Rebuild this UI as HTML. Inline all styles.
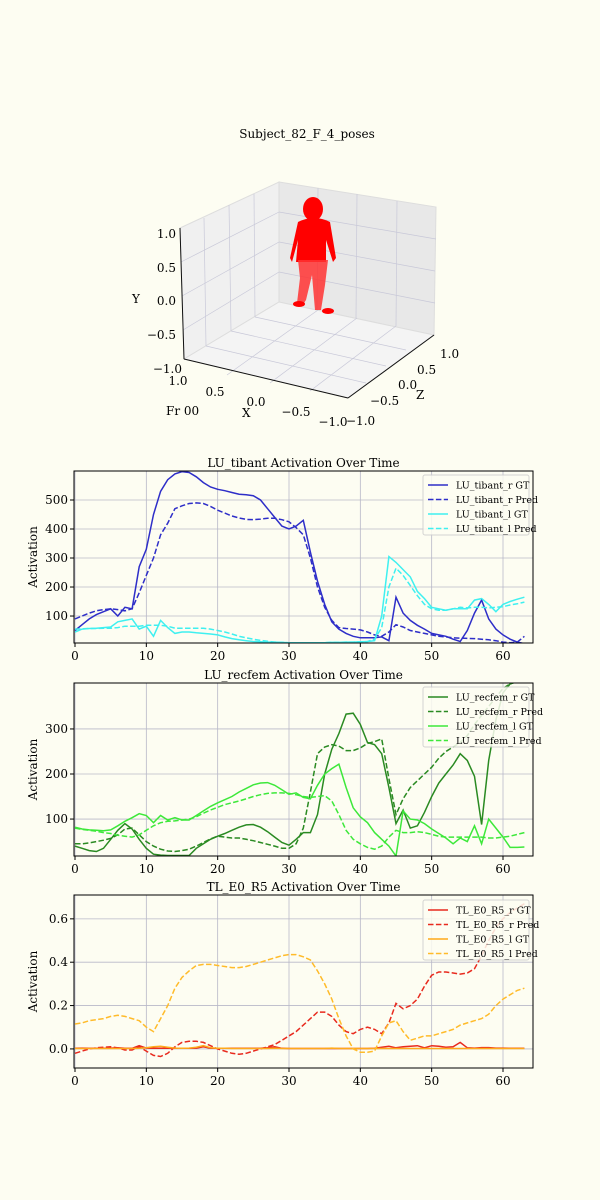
<!DOCTYPE html>
<html><head><meta charset="utf-8"><style>
body{margin:0;background:#fdfdf2;}
svg{display:block;font-family:"DejaVu Serif","Liberation Serif",serif;}
</style></head><body>
<svg id="root" width="600" height="1200" viewBox="0 0 600 1200" xmlns="http://www.w3.org/2000/svg">
<rect width="600" height="1200" fill="#fdfdf2"/>
<g id="scene">
<text x="307" y="138" font-size="12" text-anchor="middle">Subject_82_F_4_poses</text>
<polygon points="180,228 279,182 279,302 184,359" fill="#f0f0f0" stroke="#ddd"/>
<polygon points="279,182 436,207 434,335 279,302" fill="#e8e8e8" stroke="#ddd"/>
<polygon points="184,359 279,302 434,335 348,398" fill="#f4f4f4" stroke="#ddd"/>
<g stroke="#c8c8d8" stroke-width="0.7" fill="none">
<line x1="181" y1="262" x2="279" y2="212"/><line x1="182" y1="296" x2="279" y2="242"/><line x1="183" y1="330" x2="279" y2="272"/>
<line x1="279" y1="212" x2="436" y2="239"/><line x1="279" y1="242" x2="435" y2="271"/><line x1="279" y1="272" x2="435" y2="303"/>
<line x1="204" y1="218" x2="206" y2="346"/><line x1="229" y1="205" x2="231" y2="331"/><line x1="254" y1="194" x2="255" y2="317"/>
<line x1="318" y1="188" x2="317" y2="310"/><line x1="357" y1="194" x2="356" y2="318"/><line x1="397" y1="201" x2="396" y2="326"/>
<line x1="318" y1="310" x2="227" y2="375"/><line x1="357" y1="318" x2="270" y2="383"/><line x1="396" y1="326" x2="310" y2="391"/>
<line x1="206" y1="346" x2="366" y2="383"/><line x1="231" y1="331" x2="386" y2="366"/><line x1="255" y1="317" x2="406" y2="350"/>
</g>
<g stroke="#111" stroke-width="1">
<line x1="180" y1="228" x2="184" y2="359"/><line x1="184" y1="359" x2="348" y2="398"/><line x1="348" y1="398" x2="434" y2="335"/>
</g>
<g fill="#f00">
<ellipse cx="313" cy="209" rx="10" ry="12"/>
<path d="M298 222 Q314 214 330 222 L336 258 L333 262 L326 240 L326 262 L296 262 L298 240 L292 262 L290 258 Z"/>
<path d="M298 260 L328 260 L325 285 L321 310 L315 310 L312 275 L306 300 L302 306 L297 303 L300 278 Z" fill="#f33" opacity="0.85"/>
<ellipse cx="299" cy="304" rx="6" ry="3"/><ellipse cx="328" cy="311" rx="6" ry="3"/>
</g>
<g font-size="12">
<text x="176" y="238" text-anchor="end">1.0</text><text x="176" y="272" text-anchor="end">0.5</text><text x="176" y="305" text-anchor="end">0.0</text><text x="176" y="339" text-anchor="end">−0.5</text><text x="182" y="373" text-anchor="end">−1.0</text>
<text x="178" y="385" text-anchor="middle">1.0</text><text x="215" y="396" text-anchor="middle">0.5</text><text x="256" y="406" text-anchor="middle">0.0</text><text x="296" y="416" text-anchor="middle">−0.5</text><text x="333" y="426" text-anchor="middle">−1.0</text>
<text x="440" y="358">1.0</text><text x="417" y="374">0.5</text><text x="398" y="389">0.0</text><text x="370" y="405">−0.5</text><text x="346" y="425">−1.0</text>
<text x="132" y="303">Y</text><text x="242" y="417">X</text><text x="416" y="399">Z</text><text x="166" y="415">Fr 00</text>
</g>
</g>
</svg>
<script>
// ---- Chart 1: LU_tibant ----
const frames = Array.from({length:64},(_,i)=>i);
const tibR_GT=[50,70,90,105,115,125,100,130,125,270,330,450,530,570,590,598,595,580,560,545,537,532,526,520,518,515,500,470,440,410,400,410,430,320,220,140,80,55,40,30,25,25,25,28,15,165,110,85,68,55,40,35,30,20,12,50,110,155,90,55,35,20,10,5];
const tibR_Pred=[90,100,110,118,122,125,122,118,125,180,240,300,380,420,470,480,488,490,488,478,465,455,445,438,433,432,434,437,437,432,425,405,380,300,200,130,85,60,57,55,52,45,35,30,45,70,62,50,45,40,35,30,28,25,24,23,22,20,18,15,10,8,10,30];
const tibL_GT=[45,55,57,58,60,62,80,85,90,55,65,30,85,60,40,45,45,42,40,38,35,28,22,18,15,12,11,10,10,9,8,8,8,8,8,8,9,9,10,10,11,12,15,100,305,285,260,235,185,160,130,125,120,125,125,125,155,160,140,115,140,150,158,165];
const tibL_Pred=[55,56,57,57,58,58,60,65,65,65,68,68,68,65,58,58,58,58,58,55,50,45,38,30,25,20,16,13,10,9,8,8,8,8,8,8,9,9,10,10,11,12,20,60,200,265,240,205,170,140,125,120,120,125,130,128,130,130,128,130,132,138,142,148];
const tibTicks=[100,200,300,400,500];
// ---- Chart 2: LU_recfem ----
const recR_GT=[40,35,30,28,35,55,75,90,78,55,35,22,20,19,19,19,19,35,45,55,62,68,75,82,87,88,82,72,60,48,42,55,70,70,110,200,255,290,333,335,310,270,265,245,170,90,120,80,85,115,150,180,200,220,245,230,195,88,230,320,380,400,405,405];
const recR_Pred=[45,45,47,50,53,57,65,78,80,65,50,40,33,29,28,30,33,40,48,56,62,60,58,58,55,52,48,44,40,35,35,45,80,160,245,260,265,262,252,252,258,268,272,278,190,110,145,170,185,200,215,235,250,260,270,285,310,330,350,370,390,400,405,410];
const recL_GT=[82,78,76,75,74,76,85,95,103,112,108,92,108,98,103,98,98,108,118,128,136,143,150,160,168,176,180,181,175,165,155,158,148,145,175,200,212,222,170,125,105,92,70,55,40,18,118,100,98,90,78,68,58,45,58,50,85,45,100,80,60,37,37,38];
const recL_Pred=[80,77,75,73,70,68,64,62,60,65,75,85,92,95,96,98,100,105,113,120,126,132,136,140,145,150,154,157,158,158,157,154,150,148,150,152,140,110,75,55,45,37,33,40,60,75,70,70,72,70,66,62,60,60,60,60,60,60,58,58,60,62,66,70];
const recTicks=[100,200,300];
// ---- Chart 3: TL_E0_R5 ----
const tlR_GT=[0.003,0.004,0.003,0.003,0.003,0.004,0.005,0.003,0.003,0.015,0.004,0.003,0.003,0.003,0.003,0.003,0.003,0.004,0.01,0.003,0.003,0.003,0.003,0.003,0.003,0.003,0.003,0.005,0.01,0.003,0.002,0.002,0.002,0.002,0.002,0.002,0.002,0.002,0.002,0.002,0.002,0.002,0.003,0.008,0.012,0.005,0.01,0.012,0.015,0.005,0.015,0.012,0.008,0.01,0.03,0.005,0.004,0.006,0.006,0.004,0.004,0.003,0.003,0.003];
const tlR_Pred=[-0.02,-0.01,0,0.005,0.008,0.01,0.005,-0.005,-0.005,0.01,-0.01,-0.03,-0.035,-0.02,0.01,0.03,0.035,0.035,0.03,0.015,0,-0.01,-0.02,-0.025,-0.02,-0.01,0,0.01,0.02,0.04,0.06,0.08,0.11,0.14,0.17,0.17,0.15,0.11,0.08,0.07,0.09,0.1,0.09,0.07,0.12,0.21,0.185,0.2,0.23,0.29,0.34,0.355,0.355,0.35,0.345,0.35,0.37,0.43,0.5,0.56,0.6,0.63,0.65,0.67];
const tlL_GT=[0.002,0.002,0.002,0.002,0.002,0.002,0.002,0.002,0.002,0.003,0.005,0.01,0.012,0.008,0.004,0.003,0.004,0.008,0.015,0.005,0.003,0.003,0.002,0.002,0.002,0.002,0.002,0.002,0.003,0.002,0.002,0.002,0.002,0.002,0.002,0.002,0.004,0.002,0.002,0.002,0.002,0.002,0.002,0.002,0.002,0.002,0.002,0.002,0.002,0.002,0.002,0.002,0.002,0.002,0.002,0.002,0.002,0.002,0.002,0.002,0.002,0.002,0.002,0.002];
const tlL_Pred=[0.115,0.12,0.13,0.135,0.14,0.15,0.155,0.15,0.14,0.13,0.1,0.08,0.14,0.2,0.28,0.33,0.36,0.385,0.39,0.39,0.385,0.38,0.375,0.375,0.38,0.39,0.4,0.41,0.42,0.43,0.435,0.435,0.425,0.41,0.36,0.3,0.23,0.14,0.06,0,-0.015,-0.015,-0.01,0.06,0.12,0.13,0.08,0.04,0.05,0.06,0.06,0.07,0.08,0.09,0.11,0.12,0.13,0.14,0.16,0.2,0.23,0.25,0.27,0.28];
const tlTicks=[0.0,0.2,0.4,0.6];
const xTicks=[0,10,20,30,40,50,60];

const NS='http://www.w3.org/2000/svg';
const root=document.getElementById('root');
function mk(tag,attrs,parent){const e=document.createElementNS(NS,tag);for(const k in attrs)e.setAttribute(k,attrs[k]);(parent||root).appendChild(e);return e;}

function chart(cfg){
  const L=74,R=533,T=cfg.top,B=cfg.bottom;
  const g=mk('g',{});
  
  
  const xs=v=>L+(v+0.1)/(63+3.2)*(R-L)+0.5;
  const xScale=v=>75+v*(503-75)/60;
  const yScale=v=>B-(v-cfg.ymin)/(cfg.ymax-cfg.ymin)*(B-T);
  const clip='clip'+cfg.id;
  const cp=mk('clipPath',{id:clip},g);mk('rect',{x:L,y:T,width:R-L,height:B-T},cp);
  // grid
  xTicks.forEach(t=>{
    const ln=mk('line',{x1:xScale(t),x2:xScale(t),y1:T,y2:B,stroke:'#b8b8c8','stroke-width':0.8},g);
    
    
    const tx=mk('text',{x:xScale(t),y:B+17,'font-size':12,'text-anchor':'middle'},g);tx.textContent=t;
    
    
    mk('line',{x1:xScale(t),x2:xScale(t),y1:B,y2:B+4,stroke:'#000'},g);
  });
  cfg.ticks.forEach(t=>{
    const ln=mk('line',{x1:L,x2:R,y1:yScale(t),y2:yScale(t),stroke:'#b8b8c8','stroke-width':0.8},g);
    
    
    const tx=mk('text',{x:L-6,y:yScale(t)+4,'font-size':12,'text-anchor':'end'},g);tx.textContent=cfg.fmt(t);
    
    
    mk('line',{x1:L-4,x2:L,y1:yScale(t),y2:yScale(t),stroke:'#000'},g);
  });
  cfg.series.forEach(s=>{
    const d=frames.map((f,i)=>(i?'L':'M')+xScale(f).toFixed(1)+' '+yScale(s.data[i]).toFixed(1)).join(' ');
    const p=mk('path',{d:d,fill:'none',stroke:s.color,'stroke-width':1.5,'clip-path':'url(#'+clip+')'},g);
    if(s.dash)p.setAttribute('stroke-dasharray','5.5,2.4');
    
    
  });
  mk('rect',{x:L,y:T,width:R-L,height:B-T,fill:'none',stroke:'#000','stroke-width':1},g);
  const ti=mk('text',{x:(L+R)/2,y:T-4,'font-size':12,'text-anchor':'middle'},g);ti.textContent=cfg.title;
  
  
  const yl=mk('text',{x:0,y:0,'font-size':12,'text-anchor':'middle',transform:'translate(37 '+((T+B)/2)+') rotate(-90)'},g);yl.textContent='Activation';
  
  
  // legend
  const lg=mk('g',{},g);
  
  
  mk('rect',{x:423,y:cfg.ly,width:106,height:60,fill:'#fdfdf2',stroke:'#ccc',opacity:0.85,rx:2},lg);
  cfg.series.forEach((s,i)=>{
    const yy=cfg.ly+10+i*14.5;
    const ln=mk('line',{x1:428,x2:448,y1:yy,y2:yy,stroke:s.color,'stroke-width':1.5},lg);
    if(s.dash)ln.setAttribute('stroke-dasharray','5.5,2.4');
    const tx=mk('text',{x:456,y:yy+3.5,'font-size':9.5},lg);tx.textContent=s.label;
    
    
  });
}
const fmtInt=t=>String(t), fmt1=t=>t.toFixed(1);
chart({id:1,name:'lu-tibant-chart',title:'LU_tibant Activation Over Time',top:471,bottom:643,ymin:7,ymax:600,ticks:tibTicks,fmt:fmtInt,ly:475,
 series:[{label:'LU_tibant_r GT',data:tibR_GT,color:'#2e2ec8'},{label:'LU_tibant_r Pred',data:tibR_Pred,color:'#2e2ec8',dash:1},{label:'LU_tibant_l GT',data:tibL_GT,color:'#3ff0f0'},{label:'LU_tibant_l Pred',data:tibL_Pred,color:'#3ff0f0',dash:1}]});
chart({id:2,name:'lu-recfem-chart',title:'LU_recfem Activation Over Time',top:683,bottom:856,ymin:18,ymax:402,ticks:recTicks,fmt:fmtInt,ly:687,
 series:[{label:'LU_recfem_r GT',data:recR_GT,color:'#2a8a22'},{label:'LU_recfem_r Pred',data:recR_Pred,color:'#2a8a22',dash:1},{label:'LU_recfem_l GT',data:recL_GT,color:'#3de83a'},{label:'LU_recfem_l Pred',data:recL_Pred,color:'#3de83a',dash:1}]});
chart({id:3,name:'tl-e0-r5-chart',title:'TL_E0_R5 Activation Over Time',top:895,bottom:1068,ymin:-0.088,ymax:0.71,ticks:tlTicks,fmt:fmt1,ly:900,
 series:[{label:'TL_E0_R5_r GT',data:tlR_GT,color:'#e82a1e'},{label:'TL_E0_R5_r Pred',data:tlR_Pred,color:'#e82a1e',dash:1},{label:'TL_E0_R5_l GT',data:tlL_GT,color:'#ffaa1a'},{label:'TL_E0_R5_l Pred',data:tlL_Pred,color:'#ffbb2a',dash:1}]});
</script>
</body></html>
